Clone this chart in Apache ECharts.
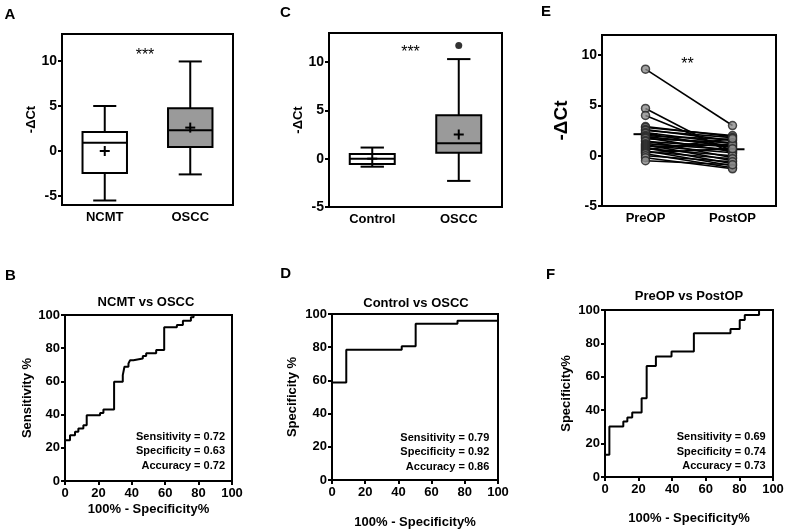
<!DOCTYPE html>
<html><head><meta charset="utf-8">
<script src="https://cdn.jsdelivr.net/npm/echarts@6/dist/echarts.min.js"></script>
<style>html,body{margin:0;padding:0;background:#fff}#c{width:787px;height:532px}</style>
</head><body><div id="c"></div>
<script>
const FONT = '"Liberation Sans", Arial, sans-serif';

// ---- Panel A: box plot (min, Q1, median, Q3, max) ----
const catsA = ['NCMT', 'OSCC'];
const boxA = [[-5.5, -2.45, 0.93, 2.1, 5.0], [-2.6, 0.45, 2.3, 4.75, 9.95]];
const meanA = [0.0, 2.6];

// ---- Panel C ----
const catsC = ['Control', 'OSCC'];
const boxC = [[-0.83, -0.55, 0.0, 0.49, 1.15], [-2.3, 0.6, 1.6, 4.5, 10.3]];
const meanC = [0.0, 2.5];
const outlierC = [['OSCC', 11.7]];

// ---- Panel E: paired values ----
const catsE = ['PreOP', 'PostOP'];
const preE  = [8.6, 4.7, 4.0, 2.9, 2.8, 2.6, 2.5, 2.3, 2.2, 2.0, 1.9, 1.8, 1.7, 1.5, 1.4, 1.2, 1.1, 1.0, 0.9, 0.8, 0.7, 0.6, 0.5, 0.4, 0.3, 0.2, 0.0, -0.2, -0.5];
const postE = [3.0, 0.2, 0.5, 1.9, 2.0, 1.5, 1.8, 1.2, 0.8, 1.6, 1.0, 0.4, 1.3, -0.2, 0.9, 0.6, -0.5, 0.3, 1.1, -0.8, 0.0, 1.7, -1.0, -0.3, 0.7, -1.2, -0.6, -1.3, -0.9];
const meanE = [2.14, 0.64];

// ---- ticks ----
const deltaTicks = [-5, 0, 5, 10];

// ---- ROC curves: [100% - specificity, sensitivity] at each step ----
const rocB = [[0,0],[0,24.5],[3,27.6],[6,29.6],[8,31.6],[11,33.6],[13,39.6],[21,41],[23,43],[29.4,59.8],[34.6,63.8],[35.6,68.8],[38,70.8],[39,72.8],[41,73.8],[46.6,75.3],[48.6,76.9],[54.6,78.9],[59.4,92.6],[67,94],[70.6,96.6],[75.4,98.6],[77,100],[100,100]];
const rocD = [[0,0],[0,58.8],[8.6,78.5],[42,80.5],[50.4,94.2],[75.6,96],[100,96]];
const rocF = [[0,0],[0,13.3],[2.6,30.3],[10.9,33.3],[13.3,35.7],[16.2,38.6],[21.8,47.2],[24.8,66.5],[30.3,72.1],[39.6,75.1],[52.9,86.1],[74.7,88.6],[80.2,94],[83.2,97],[91.7,100],[100,100]];
const statsB = ['Sensitivity = 0.72', 'Specificity = 0.63', 'Accuracy = 0.72'];
const statsD = ['Sensitivity = 0.79', 'Specificity = 0.92', 'Accuracy = 0.86'];
const statsF = ['Sensitivity = 0.69', 'Specificity = 0.74', 'Accuracy = 0.73'];

const grids = [
  {left: 62, top: 34, width: 171, height: 171},   // A
  {left: 329, top: 33, width: 173, height: 174},  // C
  {left: 602, top: 35, width: 174, height: 171},  // E
  {left: 65, top: 315, width: 167, height: 166},  // B
  {left: 332, top: 314, width: 166, height: 166}, // D
  {left: 605, top: 310, width: 168, height: 167}  // F
].map(g => Object.assign({show: true, borderColor: '#000', borderWidth: 2, backgroundColor: 'transparent', outerBoundsMode: 'none'}, g));

const lineSt = {color: '#000', width: 2};
const lblSt = {color: '#000', fontFamily: FONT, fontWeight: 'bold', fontSize: 13};

function catAxis(gi, cats) {
  return {type: 'category', gridIndex: gi, data: cats, boundaryGap: true,
    axisLine: {onZero: false, lineStyle: lineSt}, axisTick: {alignWithLabel: true, length: 5, lineStyle: lineSt},
    axisLabel: Object.assign({margin: 6}, lblSt), splitLine: {show: false}};
}
function deltaAxis(gi, min, max, nameSize, gap) {
  return {type: 'value', gridIndex: gi, min: min, max: max,
    name: '-ΔCt', nameLocation: 'middle', nameGap: gap,
    nameTextStyle: {color: '#000', fontFamily: FONT, fontWeight: 'bold', fontSize: nameSize},
    axisLine: {show: true, onZero: false, lineStyle: lineSt},
    axisTick: {show: true, length: 4, lineStyle: lineSt, customValues: deltaTicks},
    axisLabel: Object.assign({}, lblSt, {margin: 5, fontSize: 14, customValues: deltaTicks}),
    splitLine: {show: false}};
}
function rocX(gi, gap) {
  return {type: 'value', gridIndex: gi, min: 0, max: 100, interval: 20,
    name: '100% - Specificity%', nameLocation: 'middle', nameGap: gap,
    nameTextStyle: {color: '#000', fontFamily: FONT, fontWeight: 'bold', fontSize: 13},
    axisLine: {onZero: false, lineStyle: lineSt}, axisTick: {length: 4, lineStyle: lineSt},
    axisLabel: Object.assign({margin: 6}, lblSt), splitLine: {show: false}};
}
function rocY(gi, name, gap) {
  return {type: 'value', gridIndex: gi, min: 0, max: 100, interval: 20,
    name: name, nameLocation: 'middle', nameGap: gap,
    nameTextStyle: {color: '#000', fontFamily: FONT, fontWeight: 'bold', fontSize: 13},
    axisLine: {show: true, onZero: false, lineStyle: lineSt}, axisTick: {show: true, length: 4, lineStyle: lineSt},
    axisLabel: Object.assign({margin: 5}, lblSt), splitLine: {show: false}};
}

function boxRender(fills) {
  return function (params, api) {
    const i = api.value(0);
    const band = api.size([1, 0])[0];
    const bw = band * 0.52, cw = band * 0.27, pw = 5;
    const cx = api.coord([i, 0])[0];
    const y = k => api.coord([i, api.value(k)])[1];
    const yMin = y(1), yQ1 = y(2), yMed = y(3), yQ3 = y(4), yMax = y(5), yMean = y(6);
    const ls = {stroke: '#000', lineWidth: 2};
    return {type: 'group', children: [
      {type: 'line', shape: {x1: cx, y1: yMax, x2: cx, y2: yQ3}, style: ls},
      {type: 'line', shape: {x1: cx, y1: yQ1, x2: cx, y2: yMin}, style: ls},
      {type: 'line', shape: {x1: cx - cw / 2, y1: yMax, x2: cx + cw / 2, y2: yMax}, style: ls},
      {type: 'line', shape: {x1: cx - cw / 2, y1: yMin, x2: cx + cw / 2, y2: yMin}, style: ls},
      {type: 'rect', shape: {x: cx - bw / 2, y: yQ3, width: bw, height: yQ1 - yQ3}, style: {fill: fills[params.dataIndex], stroke: '#000', lineWidth: 2}},
      {type: 'line', shape: {x1: cx - bw / 2, y1: yMed, x2: cx + bw / 2, y2: yMed}, style: ls},
      {type: 'line', shape: {x1: cx - pw, y1: yMean, x2: cx + pw, y2: yMean}, style: ls},
      {type: 'line', shape: {x1: cx, y1: yMean - pw, x2: cx, y2: yMean + pw}, style: ls}
    ]};
  };
}

const series = [
  {type: 'custom', xAxisIndex: 0, yAxisIndex: 0, renderItem: boxRender(['#fff', '#9a9a9a']),
    encode: {x: 0, y: [1, 2, 3, 4, 5, 6]}, data: boxA.map((b, i) => [i].concat(b, [meanA[i]]))},
  {type: 'custom', xAxisIndex: 1, yAxisIndex: 1, renderItem: boxRender(['#fff', '#9a9a9a']),
    encode: {x: 0, y: [1, 2, 3, 4, 5, 6]}, data: boxC.map((b, i) => [i].concat(b, [meanC[i]]))},
  {type: 'scatter', xAxisIndex: 1, yAxisIndex: 1, symbol: 'circle', symbolSize: 7,
    itemStyle: {color: '#000'}, data: outlierC},
  // E: mean lines
  {type: 'custom', xAxisIndex: 2, yAxisIndex: 2, z: 1, encode: {x: 0, y: 1},
    data: meanE.map((m, i) => [i, m]),
    renderItem: (params, api) => {
      const p = api.coord([api.value(0), api.value(1)]);
      return {type: 'line', shape: {x1: p[0] - 12, y1: p[1], x2: p[0] + 12, y2: p[1]}, style: {stroke: '#000', lineWidth: 2}};
    }},
  // E: pair lines
  {type: 'custom', xAxisIndex: 2, yAxisIndex: 2, z: 2, encode: {x: -1, y: [0, 1]},
    data: preE.map((v, i) => [v, postE[i]]),
    renderItem: (params, api) => {
      const a = api.coord([0, api.value(0)]);
      const b = api.coord([1, api.value(1)]);
      return {type: 'line', shape: {x1: a[0], y1: a[1], x2: b[0], y2: b[1]}, style: {stroke: '#000', lineWidth: 1.6}};
    }},
  {type: 'scatter', xAxisIndex: 2, yAxisIndex: 2, z: 3, symbol: 'circle', symbolSize: 8,
    itemStyle: {color: '#8c8c8c', borderColor: '#222', borderWidth: 1.5},
    data: preE.map(v => ['PreOP', v])},
  {type: 'scatter', xAxisIndex: 2, yAxisIndex: 2, z: 3, symbol: 'circle', symbolSize: 8,
    itemStyle: {color: '#8c8c8c', borderColor: '#222', borderWidth: 1.5},
    data: postE.map(v => ['PostOP', v])},
  // ROC curves
  {type: 'line', xAxisIndex: 3, yAxisIndex: 3, step: 'end', showSymbol: false, lineStyle: {color: '#000', width: 2}, data: rocB},
  {type: 'line', xAxisIndex: 4, yAxisIndex: 4, step: 'end', showSymbol: false, lineStyle: {color: '#000', width: 2}, data: rocD},
  {type: 'line', xAxisIndex: 5, yAxisIndex: 5, step: 'end', showSymbol: false, lineStyle: {color: '#000', width: 2}, data: rocF}
];

function txt(text, x, y, size, weight, align) {
  return {type: 'text', x: x, y: y, silent: true,
    style: {text: text, fill: '#000', font: (weight || 'bold') + ' ' + size + 'px ' + FONT,
      textAlign: align || 'center', textVerticalAlign: 'middle'}};
}
const graphic = [
  txt('A', 10, 14.5, 15), txt('C', 285.5, 13, 15), txt('E', 546, 11.5, 15),
  txt('B', 10.5, 276, 15), txt('D', 285.7, 274, 15), txt('F', 550.5, 274.5, 15),
  txt('***', 145, 56, 16, 'normal'), txt('**', 687.5, 64.5, 16, 'normal'), txt('***', 410.5, 52.5, 16, 'normal'),
  txt('NCMT vs OSCC', 146, 302.3, 13), txt('Control vs OSCC', 416, 303.3, 13), txt('PreOP vs PostOP', 689, 296.7, 13)
];
[[statsB, 225, 437], [statsD, 489.3, 437.7], [statsF, 765.7, 437.3]].forEach(([s, x, y0]) => {
  s.forEach((t, k) => graphic.push(txt(t, x, y0 + k * 14.4, 11, 'bold', 'right')));
});

const chart = echarts.init(document.getElementById('c'), null, {renderer: 'canvas'});
chart.setOption({
  animation: false,
  backgroundColor: '#fff',
  grid: grids,
  xAxis: [catAxis(0, catsA), catAxis(1, catsC), catAxis(2, catsE), rocX(3, 22), rocX(4, 36), rocX(5, 35)],
  yAxis: [deltaAxis(0, -6, 13, 13, 22), deltaAxis(1, -5, 13, 13, 24), deltaAxis(2, -5, 12, 19, 31),
    rocY(3, 'Sensitivity %', 30), rocY(4, 'Specificity %', 33), rocY(5, 'Specificity%', 32)],
  series: series,
  graphic: graphic
});
</script></body></html>
